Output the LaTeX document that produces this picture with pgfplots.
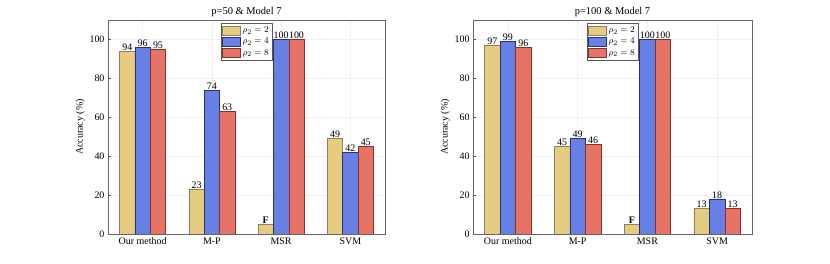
\documentclass[border=0pt]{standalone}
\usepackage{pgfplots}
\pgfplotsset{compat=1.18}
\usepackage{fontspec}
\setmainfont{Liberation Serif}
\definecolor{cY}{RGB}{230,204,128}
\definecolor{cB}{RGB}{102,128,230}
\definecolor{cR}{RGB}{230,115,102}
\definecolor{eY}{RGB}{140,128,96}
\definecolor{eB}{RGB}{40,50,110}
\definecolor{eR}{RGB}{130,50,45}
\pgfplotsset{
  myax/.style={
    scale only axis, height=214bp,
    ybar=0pt, bar width=0.222,
    xmin=0.5, xmax=4.5, ymin=0, ymax=110,
    xtick={1,2,3,4}, xticklabels={Our method,M-P,MSR,SVM},
    ytick={0,20,40,60,80,100},
    grid=major, major grid style={gray!12, line width=0.4pt},
    axis line style={gray!80!black, line width=0.5pt},
    tick style={gray!70!black},
    tick align=inside, major tick length=3pt,
    xtick pos=bottom, ytick pos=left,
    /pgf/number format/assume math mode=true,
    tick label style={font=\fontsize{10}{11}\selectfont},
    ylabel={Accuracy (\%)},
    ylabel style={font=\fontsize{10}{11}\selectfont, yshift=-2pt},
    title style={font=\fontsize{10.5}{11}\selectfont, yshift=-6pt},
    point meta=explicit symbolic,
    nodes near coords,
    nodes near coords style={font=\fontsize{10}{11}\selectfont, inner sep=0.5pt},
    legend style={at={(0.5,0.985)}, anchor=north, font=\fontsize{9.5}{10}\selectfont,
      draw=gray!70!black, line width=0.4pt, inner sep=1.5pt, row sep=0pt,
      legend cell align=left},
    legend image code/.code={\draw[#1] (0bp,-4.5bp) rectangle (18bp,4.5bp);},
    enlarge y limits=false,
  },
}
\begin{document}
\begin{tikzpicture}
\path[use as bounding box] (0,0) rectangle (830bp,264bp);
\begin{axis}[myax, at={(108bp,30bp)}, anchor=south west, width=277bp,
  title={p=50 \& Model 7}]
\addplot[fill=cY, draw=eY, line width=0.5pt] coordinates {(1,94) [94] (2,23) [23] (3,5) [\textbf{F}] (4,49) [49]};
\addplot[fill=cB, draw=eB, line width=0.5pt] coordinates {(1,96) [96] (2,74) [74] (3,100) [100] (4,42) [42]};
\addplot[fill=cR, draw=eR, line width=0.5pt] coordinates {(1,95) [95] (2,63) [63] (3,100) [100] (4,45) [45]};
\legend{$\rho_2 = 2$, $\rho_2 = 4$, $\rho_2 = 8$}
\end{axis}
\begin{axis}[myax, at={(473bp,30bp)}, anchor=south west, width=279bp,
  title={p=100 \& Model 7}]
\addplot[fill=cY, draw=eY, line width=0.5pt] coordinates {(1,97) [97] (2,45) [45] (3,5) [\textbf{F}] (4,13) [13]};
\addplot[fill=cB, draw=eB, line width=0.5pt] coordinates {(1,99) [99] (2,49) [49] (3,100) [100] (4,18) [18]};
\addplot[fill=cR, draw=eR, line width=0.5pt] coordinates {(1,96) [96] (2,46) [46] (3,100) [100] (4,13) [13]};
\legend{$\rho_2 = 2$, $\rho_2 = 4$, $\rho_2 = 8$}
\end{axis}
\end{tikzpicture}
\end{document}
